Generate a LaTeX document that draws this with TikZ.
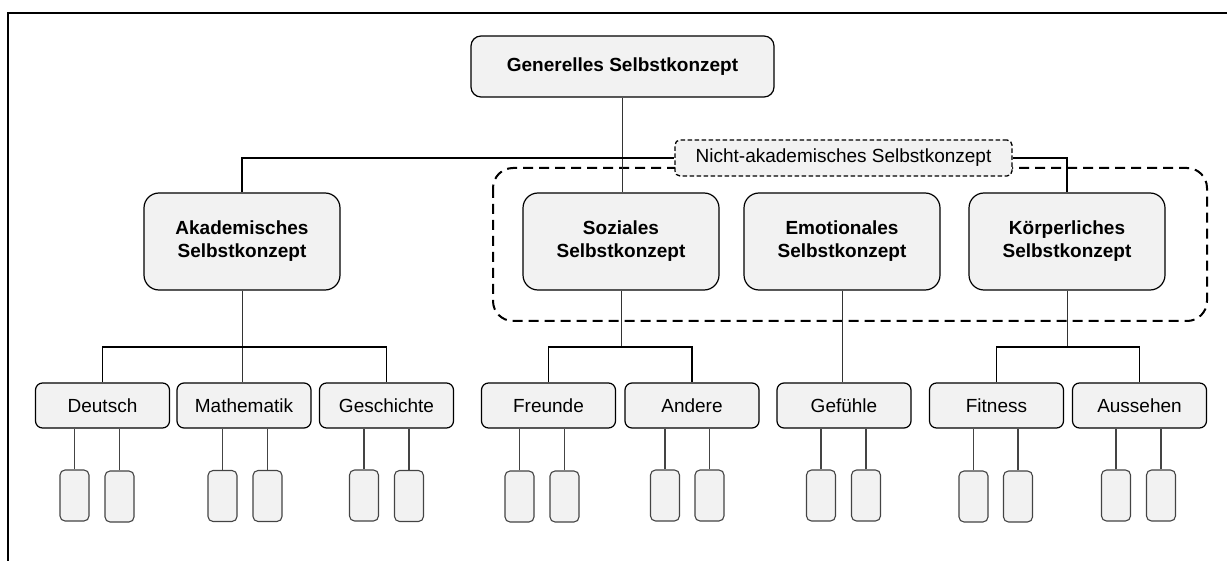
\documentclass[tikz,border=0pt]{standalone}
\usepackage{fontspec}
\setmainfont{Liberation Sans}
\begin{document}
\begin{tikzpicture}[x=1pt,y=-1pt,
  every node/.style={font=\fontsize{19}{23}\selectfont},
  topbox/.style={draw=black, fill=boxgray, line width=1.2pt, rounded corners=10pt,
    minimum width=303pt, minimum height=61pt, inner sep=0pt, font=\fontsize{19}{23}\selectfont\bfseries},
  mainbox/.style={draw=black, fill=boxgray, line width=1.2pt, rounded corners=15pt,
    minimum width=196pt, minimum height=97pt, inner sep=0pt, align=center,
    font=\fontsize{19}{23}\selectfont\bfseries},
  subbox/.style={draw=black, fill=boxgray, line width=1.2pt, rounded corners=7pt,
    minimum width=134pt, minimum height=45pt, inner sep=0pt},
  leaf/.style={draw=leafgray, fill=boxgray, line width=1.1pt, rounded corners=5pt,
    minimum width=29pt, minimum height=51pt, inner sep=0pt},
  grouplabel/.style={draw=black, fill=boxgray, line width=1.3pt, rounded corners=5pt,
    dash pattern=on 4.5pt off 2.5pt, minimum width=337pt, minimum height=36pt, inner sep=0pt},
  thinline/.style={draw=linegray, line width=1pt},
  barline/.style={draw=black, line width=1.8pt},
  leafline/.style={draw=leafgray, line width=1.1pt}
]
\definecolor{boxgray}{HTML}{F2F2F2}
\definecolor{linegray}{HTML}{333333}
\definecolor{leafgray}{HTML}{444444}
\useasboundingbox (0,0) rectangle (1227,561);

% outer frame (open to the right and bottom)
\draw[line width=2pt] (8,561) -- (8,13) -- (1227,13);

% dashed grouping of the non-academic facets
\draw[line width=2pt, dash pattern=on 10pt off 6pt, rounded corners=20pt]
  (493,168) rectangle (1207,321);

% top level
\node[topbox] (gen) at (622.5,66.5) {Generelles Selbstkonzept};

% first level
\node[mainbox] (aka) at (242,241.5) {Akademisches\\Selbstkonzept};
\node[mainbox] (soz) at (621,241.5) {Soziales\\Selbstkonzept};
\node[mainbox] (emo) at (842,241.5) {Emotionales\\Selbstkonzept};
\node[mainbox] (koe) at (1067,241.5) {Körperliches\\Selbstkonzept};

% second level
\node[subbox] (deu) at (102.5,405.5) {Deutsch};
\node[subbox] (mat) at (244,405.5) {Mathematik};
\node[subbox] (ges) at (386.5,405.5) {Geschichte};
\node[subbox] (fre) at (548.5,405.5) {Freunde};
\node[subbox] (and) at (692,405.5) {Andere};
\node[subbox] (gef) at (844,405.5) {Gefühle};
\node[subbox] (fit) at (996.5,405.5) {Fitness};
\node[subbox] (aus) at (1139.5,405.5) {Aussehen};

% third level (unlabelled)
\node[leaf] (deu1) at (74.5,495.5) {};
\node[leaf] (deu2) at (119.5,496.5) {};
\node[leaf] (mat1) at (222.5,496) {};
\node[leaf] (mat2) at (267.5,496) {};
\node[leaf] (ges1) at (364,495.5) {};
\node[leaf] (ges2) at (409,496) {};
\node[leaf] (fre1) at (519.5,496.5) {};
\node[leaf] (fre2) at (564.5,496.5) {};
\node[leaf] (and1) at (665,495.5) {};
\node[leaf] (and2) at (709.5,495.5) {};
\node[leaf] (gef1) at (821,495.5) {};
\node[leaf] (gef2) at (866,495.5) {};
\node[leaf] (fit1) at (973.5,496.5) {};
\node[leaf] (fit2) at (1018,496.5) {};
\node[leaf] (aus1) at (1116,495.5) {};
\node[leaf] (aus2) at (1161,495.5) {};

% connectors: top to first level
\draw[thinline] (gen.south) -- (gen.south |- soz.north);
\node[grouplabel] (lbl) at (843.5,158) {Nicht-akademisches Selbstkonzept};
\draw[barline] (aka.north) |- (lbl.west);
\draw[barline] (lbl.east) -| (koe.north);

% connectors: first to second level
\coordinate (bar) at (0,347);
\draw[thinline] (aka.south) -- (aka.south |- mat.north);
\draw[barline] (deu.north) -- (deu.north |- bar) -| (ges.north);
\draw[thinline] (soz.south) -- (soz.south |- bar);
\draw[barline] (fre.north) -- (fre.north |- bar) -| (and.north);
\draw[thinline] (emo.south) -- (emo.south |- gef.north);
\draw[thinline] (koe.south) -- (koe.south |- bar);
\draw[barline] (fit.north) -- (fit.north |- bar) -| (aus.north);

% connectors: second to third level
\foreach \p/\c in {deu/deu1,deu/deu2,mat/mat1,mat/mat2,ges/ges1,ges/ges2,
                   fre/fre1,fre/fre2,and/and1,and/and2,gef/gef1,gef/gef2,
                   fit/fit1,fit/fit2,aus/aus1,aus/aus2}
  \draw[leafline] (\c.north) -- (\c.north |- \p.south);
\end{tikzpicture}
\end{document}
